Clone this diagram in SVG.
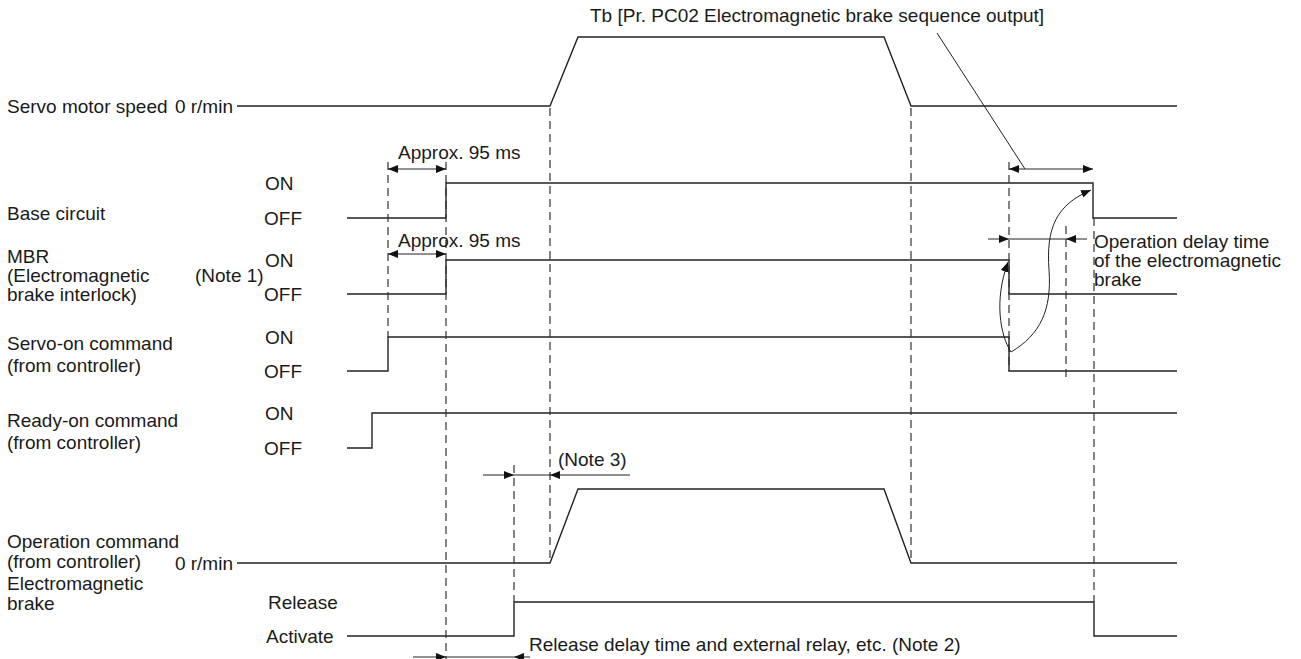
<svg xmlns="http://www.w3.org/2000/svg" width="1301" height="659" viewBox="0 0 1301 659">
<style>
text{font-family:"Liberation Sans",Arial,sans-serif;font-size:19px;fill:#1a1a1a}
.sig{fill:none;stroke:#222;stroke-width:1.4}
.dash{fill:none;stroke:#333;stroke-width:1.2;stroke-dasharray:8,5}
.dim{fill:none;stroke:#222;stroke-width:1}
</style>
<defs>
<marker id="ah" viewBox="0 0 10 8" refX="10" refY="4" markerWidth="10" markerHeight="8" markerUnits="userSpaceOnUse" orient="auto">
<path d="M0,0 L10,4 L0,8 Z" fill="#111"/>
</marker>
<marker id="ahs" viewBox="0 0 10 8" refX="0" refY="4" markerWidth="10" markerHeight="8" markerUnits="userSpaceOnUse" orient="auto">
<path d="M10,0 L0,4 L10,8 Z" fill="#111"/>
</marker>
</defs>
<g id="labels">
<text x="7" y="113">Servo motor speed</text>
<text x="7" y="220">Base circuit</text>
<text x="7" y="263">MBR</text>
<text x="7" y="282">(Electromagnetic</text>
<text x="7" y="301">brake interlock)</text>
<text x="7" y="350">Servo-on command</text>
<text x="7" y="372">(from controller)</text>
<text x="7" y="427">Ready-on command</text>
<text x="7" y="449">(from controller)</text>
<text x="7" y="548">Operation command</text>
<text x="7" y="568">(from controller)</text>
<text x="7" y="590">Electromagnetic</text>
<text x="7" y="610">brake</text>
<text x="233" y="113" text-anchor="end">0 r/min</text>
<text x="233" y="570" text-anchor="end">0 r/min</text>
<text x="265" y="190">ON</text>
<text x="264" y="225">OFF</text>
<text x="195" y="282">(Note 1)</text>
<text x="265" y="267">ON</text>
<text x="264" y="301">OFF</text>
<text x="265" y="344">ON</text>
<text x="264" y="378">OFF</text>
<text x="265" y="420">ON</text>
<text x="264" y="455">OFF</text>
<text x="268" y="609">Release</text>
<text x="266" y="643">Activate</text>
</g>
<g id="signals">
<path id="servo-speed" class="sig" d="M237,106 H550 L578,37 H884 L911,106 H1177"/>
<path id="base-circuit" class="sig" d="M347,218 H446 V183 H1093 V218 H1177"/>
<path id="mbr" class="sig" d="M347,294 H446 V260 H1009 V294 H1177"/>
<path id="servo-on" class="sig" d="M347,371 H388 V337 H1009 V371 H1177"/>
<path id="ready-on" class="sig" d="M347,448 H372 V413 H1177"/>
<path id="operation" class="sig" d="M237,563 H550 L578,489 H884 L911,563 H1177"/>
<path id="brake" class="sig" d="M347,636 H514 V602 H1094 V636 H1177"/>
</g>
<g id="connectors">
<path class="dash" d="M388,162 V337"/>
<path class="dash" d="M446,162 V659"/>
<path class="dash" d="M550,108 V563"/>
<path class="dash" d="M514,465 V602"/>
<path class="dash" d="M911,108 V563"/>
<path class="dash" d="M1009,162 V371"/>
<path class="dash" d="M1066,226 V380"/>
<path class="dash" d="M1094,218 V602"/>
<line class="dim" x1="388" y1="169" x2="446" y2="169" marker-start="url(#ahs)" marker-end="url(#ah)"/>
<line class="dim" x1="388" y1="254" x2="446" y2="254" marker-start="url(#ahs)" marker-end="url(#ah)"/>
<line class="dim" x1="1009" y1="169" x2="1093" y2="169" marker-start="url(#ahs)" marker-end="url(#ah)"/>
<line class="dim" x1="937" y1="33" x2="1025" y2="169"/>
<line class="dim" x1="988" y1="239" x2="1009" y2="239" marker-end="url(#ah)"/>
<line class="dim" x1="1009" y1="239" x2="1066" y2="239"/>
<line class="dim" x1="1087" y1="239" x2="1066" y2="239" marker-end="url(#ah)"/>
<line class="dim" x1="483" y1="475" x2="514" y2="475" marker-end="url(#ah)"/>
<line class="dim" x1="514" y1="475" x2="550" y2="475"/>
<line class="dim" x1="630" y1="475" x2="550" y2="475" marker-end="url(#ah)"/>
<line class="dim" x1="413" y1="657" x2="446" y2="657" marker-end="url(#ah)"/>
<line class="dim" x1="446" y1="657" x2="514" y2="657"/>
<line class="dim" x1="530" y1="657" x2="514" y2="657" marker-end="url(#ah)"/>
<path class="dim" d="M1011,352 C1000,335 994,300 1008,262" marker-end="url(#ah)"/>
<path class="dim" d="M1011,352 C1040,335 1052,310 1049,270 C1046,228 1056,205 1091,190" marker-end="url(#ah)"/>
</g>
<g id="annotations">
<text x="590" y="22">Tb [Pr. PC02 Electromagnetic brake sequence output]</text>
<text x="398" y="159">Approx. 95 ms</text>
<text x="398" y="247">Approx. 95 ms</text>
<text x="558" y="466">(Note 3)</text>
<text x="529" y="651">Release delay time and external relay, etc. (Note 2)</text>
<text x="1094" y="248">Operation delay time</text>
<text x="1094" y="267">of the electromagnetic</text>
<text x="1094" y="286">brake</text>
</g>
</svg>
